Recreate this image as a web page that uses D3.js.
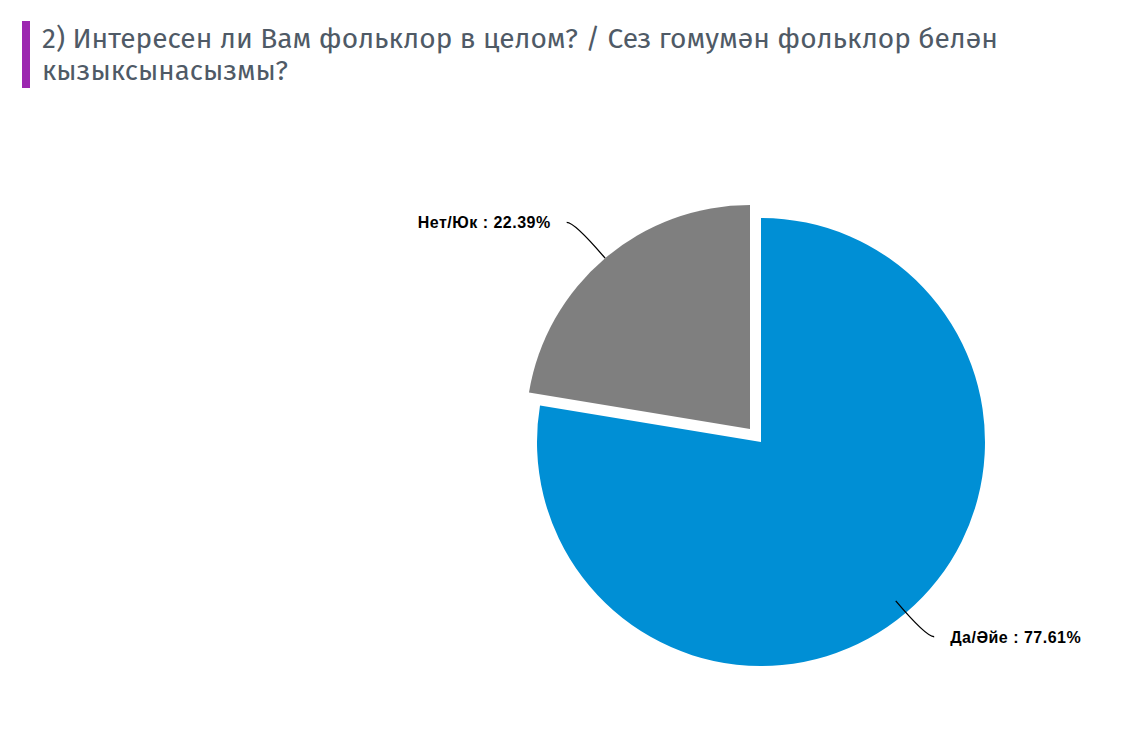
<!DOCTYPE html>
<html>
<head>
<meta charset="utf-8">
<script src="https://cdn.jsdelivr.net/npm/d3@7"></script>
<style>
  html, body { margin: 0; padding: 0; background: #fff; }
  svg { display: block; }
</style>
</head>
<body>
<svg id="chart" width="1129" height="751"></svg>
<script>
// ---- data ----
const titleLines = [
  "2) Интересен ли Вам фольклор в целом? / Сез гомумән фольклор белән",
  "кызыксынасызмы?"
];
const categories = ["Да/Әйе", "Нет/Юк"];
const values = [77.61, 22.39];
const colors = ["#008fd5", "#7f7f7f"];

// ---- layout ----
const W = 1129, H = 751;
const cx = 761, cy = 442, R = 224;
const explode = [0, 17];
const labelRadius = [1.14, 1.21];
const lineStart = [0.93, 1.0];
const titleWidths = [956, 246];

const svg = d3.select("#chart");

// title
svg.append("rect").attr("x", 22).attr("y", 21).attr("width", 8).attr("height", 67).attr("fill", "#9c27b0");
const title = svg.append("g");
titleLines.forEach((t, i) => {
  title.append("text")
    .attr("x", 42).attr("y", 48 + i * 32)
    .attr("font-family", "'Fira Sans', 'Open Sans', 'Noto Sans', sans-serif")
    .attr("font-size", 27)
    .attr("fill", "#4f5a66")
    .attr("textLength", titleWidths[i])
    .attr("lengthAdjust", "spacingAndGlyphs")
    .text(t);
});

const data = categories.map((c, i) => ({ name: c, value: values[i], i }));
const pie = d3.pie().value(d => d.value).sort(null);
const arcs = pie(data);
const arc = d3.arc().innerRadius(0).outerRadius(R);

const g = svg.append("g").attr("transform", `translate(${cx},${cy})`);

arcs.forEach(a => {
  const mid = (a.startAngle + a.endAngle) / 2;
  const ox = Math.sin(mid) * explode[a.index];
  const oy = -Math.cos(mid) * explode[a.index];
  a.ox = ox; a.oy = oy; a.mid = mid;
  g.append("path")
    .attr("d", arc(a))
    .attr("transform", `translate(${ox},${oy})`)
    .attr("fill", colors[a.index]);
});

arcs.forEach(a => {
  const s = Math.sin(a.mid), c = -Math.cos(a.mid);
  const x0 = a.ox + s * R * lineStart[a.index];
  const y0 = a.oy + c * R * lineStart[a.index];
  const yEnd = a.oy + c * R * labelRadius[a.index];
  const t = (yEnd - a.oy) / c;
  const xc = a.ox + s * t;
  const right = s >= 0;
  const xEnd = xc + (right ? 8 : -8);
  const path = d3.path();
  path.moveTo(x0, y0);
  path.quadraticCurveTo(xc, yEnd, xEnd, yEnd);
  g.append("path").attr("d", path.toString())
    .attr("fill", "none").attr("stroke", "#000").attr("stroke-width", 1.3);
  g.append("text")
    .attr("x", xEnd + (right ? 16 : -16))
    .attr("y", yEnd + 6)
    .attr("text-anchor", right ? "start" : "end")
    .attr("font-family", "'Liberation Sans', Arial, sans-serif")
    .attr("font-weight", "bold")
    .attr("font-size", 16)
    .attr("letter-spacing", 0.5)
    .attr("fill", "#000")
    .text(`${a.data.name} : ${a.data.value.toFixed(2)}%`);
});
</script>
</body>
</html>
